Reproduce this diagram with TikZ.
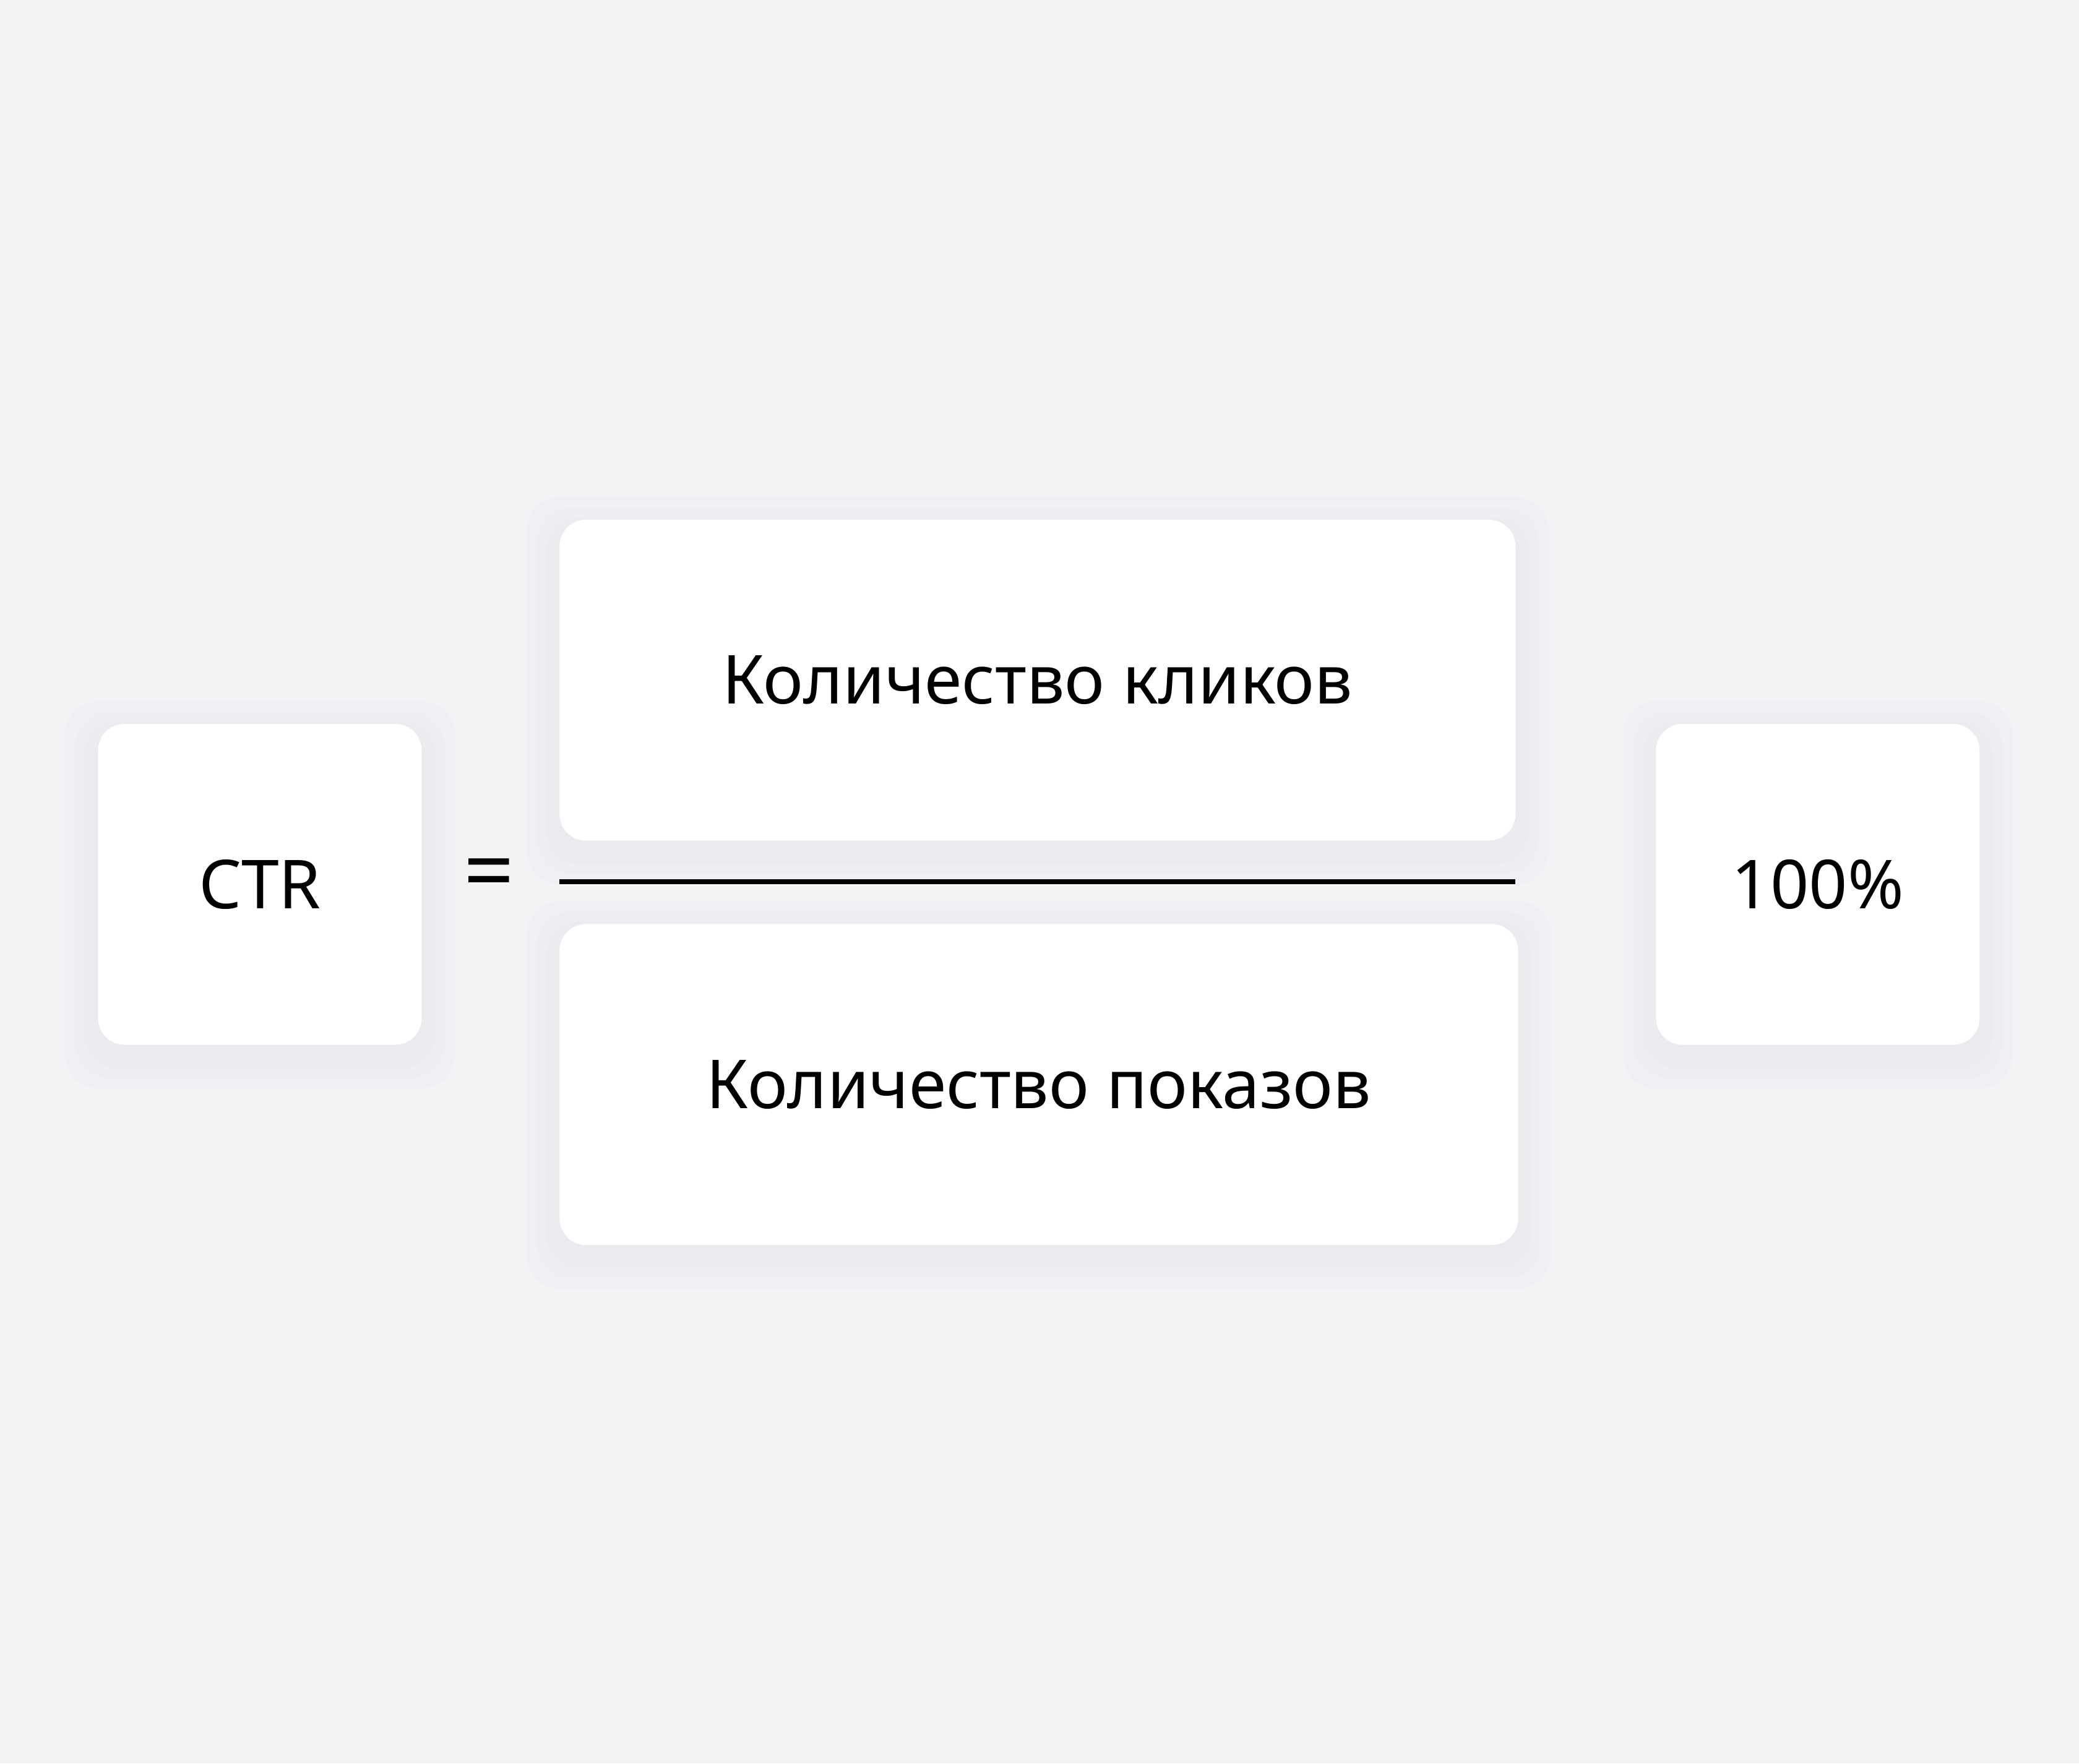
\documentclass[tikz,border=0pt]{standalone}
\usepackage{fontspec}
\setmainfont{Noto Sans}
\definecolor{bgcol}{HTML}{F2F3F5}
\definecolor{shadecol}{HTML}{E6E7EA}
\begin{document}
\begin{tikzpicture}[
		card_style/.style={rectangle,rounded corners=0.2cm,fill=white,draw=none,
			font=\fontsize{14.5}{17}\selectfont},
		line_style/.style={draw=black,line width=0.035cm}]
		
		\fill[bgcol] (0,0) rectangle (15.68,13.30);
		\useasboundingbox (0,0) rectangle (15.68,13.30);
		
		% soft shadows under the cards
		\foreach \cx/\cy/\w in {1.96/6.63/2.44, 7.825/8.17/7.21, 7.835/5.12/7.23, 13.71/6.63/2.44}{
			\foreach \g in {0.04,0.1,0.17,0.25}{
				\fill[shadecol,opacity=0.18,rounded corners=0.25cm]
					(\cx-\w/2-\g,\cy-1.21-\g-0.08) rectangle (\cx+\w/2+\g,\cy+1.21+\g-0.08);
			}
		}
		
		\node[card_style,minimum width=2.44cm,minimum height=2.42cm] (ctr) at (1.96,6.63) {CTR};
		\node[font=\fontsize{19}{22}\selectfont] (eq) at (3.69,6.66) {=};
		\node[card_style,minimum width=7.21cm,minimum height=2.42cm] (num) at (7.825,8.17) {Количество кликов};
		\node[card_style,minimum width=7.23cm,minimum height=2.42cm] (den) at (7.835,5.12) {Количество показов};
		\node[card_style,minimum width=2.44cm,minimum height=2.42cm] (pct) at (13.71,6.63) {100\%};
		
		\coordinate (fl) at (4.22,6.65);
		\coordinate (fr) at (11.43,6.65);
		\draw[line_style] (fl) -- (fr);
		
\end{tikzpicture}
\end{document}
